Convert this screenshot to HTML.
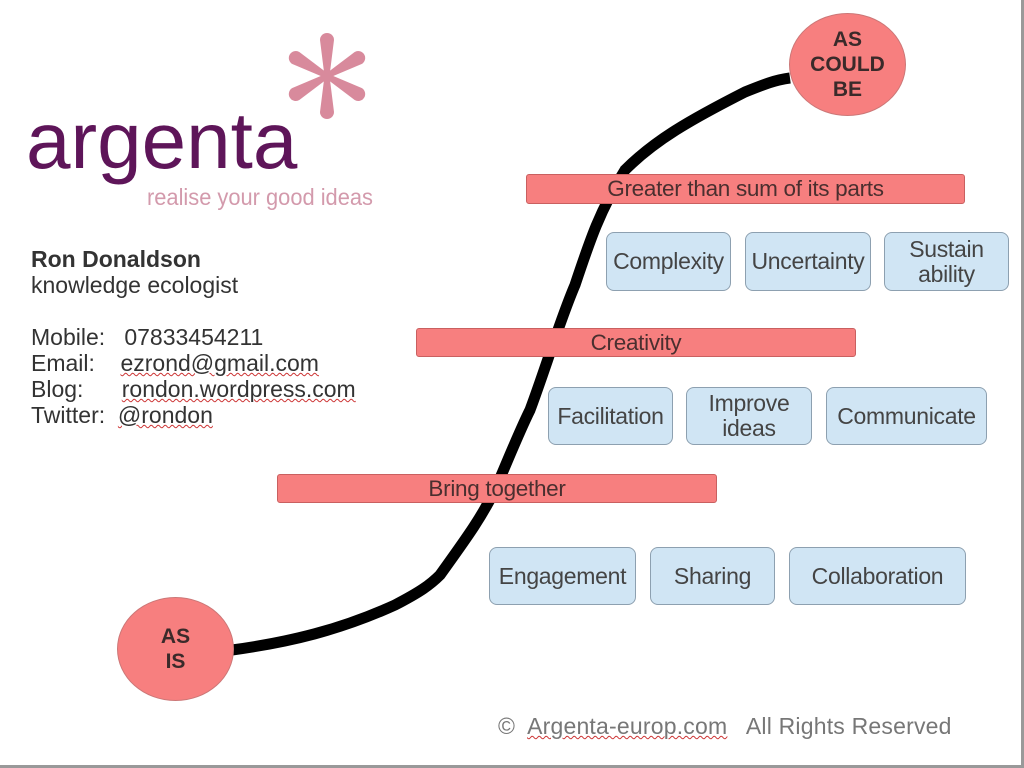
<!DOCTYPE html>
<html><head><meta charset="utf-8"><style>
body{margin:0;width:1024px;height:768px;background:#fff;position:relative;overflow:hidden;font-family:"Liberation Sans",sans-serif}
.a{position:absolute}
.bar{position:absolute;background:#f77f7f;border:1px solid #c96060;border-radius:3px;color:#4a2f2f;font-size:22.5px;text-align:center;line-height:28px;box-sizing:border-box;letter-spacing:-0.3px}
.bx{position:absolute;background:#d0e5f4;border:1px solid #8da0b0;border-radius:8px;color:#444;font-size:23px;text-align:center;display:flex;align-items:center;justify-content:center;line-height:25px;box-sizing:border-box;letter-spacing:-0.3px}
.c{position:absolute;background:#f77f7f;border:1px solid #c77;border-radius:50%;color:#3a2a2a;font-weight:bold;font-size:21px;text-align:center;display:flex;align-items:center;justify-content:center;line-height:25px;box-sizing:border-box}
.info{position:absolute;left:31px;color:#333;font-size:23px;line-height:26px;white-space:pre}
.u{text-decoration:underline wavy #c33;text-decoration-thickness:1px}
</style></head><body>
<div class="a" style="left:0;top:765px;width:1024px;height:3px;background:#999"></div>
<div class="a" style="left:1021px;top:0;width:3px;height:768px;background:#999"></div>
<svg class="a" style="left:0;top:0" width="1024" height="768">
<path d="M232,650 C290,642 340,630 395,605 C420,592 430,585 440,575 C465,540 480,520 495,490 C510,455 520,430 530,410 C545,370 560,320 575,285 C590,240 600,210 625,170 C655,140 690,120 745,92 C765,84 775,80 790,78" fill="none" stroke="#000" stroke-width="11"/>
<g fill="#d88a9c" transform="translate(327,76)">
<g id="p"><path d="M-2.5,0 L-7,-36 A7,7 0 0 1 7,-36 L2.5,0 Z"/></g>
<use href="#p" transform="rotate(60)"/><use href="#p" transform="rotate(120)"/><use href="#p" transform="rotate(180)"/><use href="#p" transform="rotate(240)"/><use href="#p" transform="rotate(300)"/>
</g>
</svg>
<div class="a" style="left:26px;top:96px;font-size:80px;color:#5e1559;line-height:90px;transform:scaleX(1.0);transform-origin:0 0">argenta</div>
<div class="a" style="left:147px;top:183px;font-size:23px;color:#d39aac;line-height:28px;transform:scaleX(0.95);transform-origin:0 0">realise your good ideas</div>
<div class="info" style="top:246px"><b>Ron Donaldson</b>
knowledge ecologist

Mobile:   07833454211
Email:    <span class="u">ezrond@gmail.com</span>
Blog:      <span class="u">rondon.wordpress.com</span>
Twitter:  <span class="u">@rondon</span></div>
<div class="bar" style="left:526px;top:174px;width:439px;height:30px">Greater than sum of its parts</div>
<div class="bar" style="left:416px;top:328px;width:440px;height:29px">Creativity</div>
<div class="bar" style="left:277px;top:474px;width:440px;height:29px">Bring together</div>
<div class="bx" style="left:606px;top:232px;width:125px;height:59px">Complexity</div>
<div class="bx" style="left:745px;top:232px;width:126px;height:59px">Uncertainty</div>
<div class="bx" style="left:884px;top:232px;width:125px;height:59px">Sustain<br>ability</div>
<div class="bx" style="left:548px;top:387px;width:125px;height:58px">Facilitation</div>
<div class="bx" style="left:686px;top:387px;width:126px;height:58px">Improve<br>ideas</div>
<div class="bx" style="left:826px;top:387px;width:161px;height:58px">Communicate</div>
<div class="bx" style="left:489px;top:547px;width:147px;height:58px">Engagement</div>
<div class="bx" style="left:650px;top:547px;width:125px;height:58px">Sharing</div>
<div class="bx" style="left:789px;top:547px;width:177px;height:58px">Collaboration</div>
<div class="c" style="left:789px;top:13px;width:117px;height:103px">AS<br>COULD<br>BE</div>
<div class="c" style="left:117px;top:597px;width:117px;height:104px">AS<br>IS</div>
<div class="a" style="left:498px;top:713px;font-size:23px;color:#777;white-space:pre;letter-spacing:0.2px">©  <span class="u">Argenta-europ.com</span>   All Rights Reserved</div>
</body></html>
